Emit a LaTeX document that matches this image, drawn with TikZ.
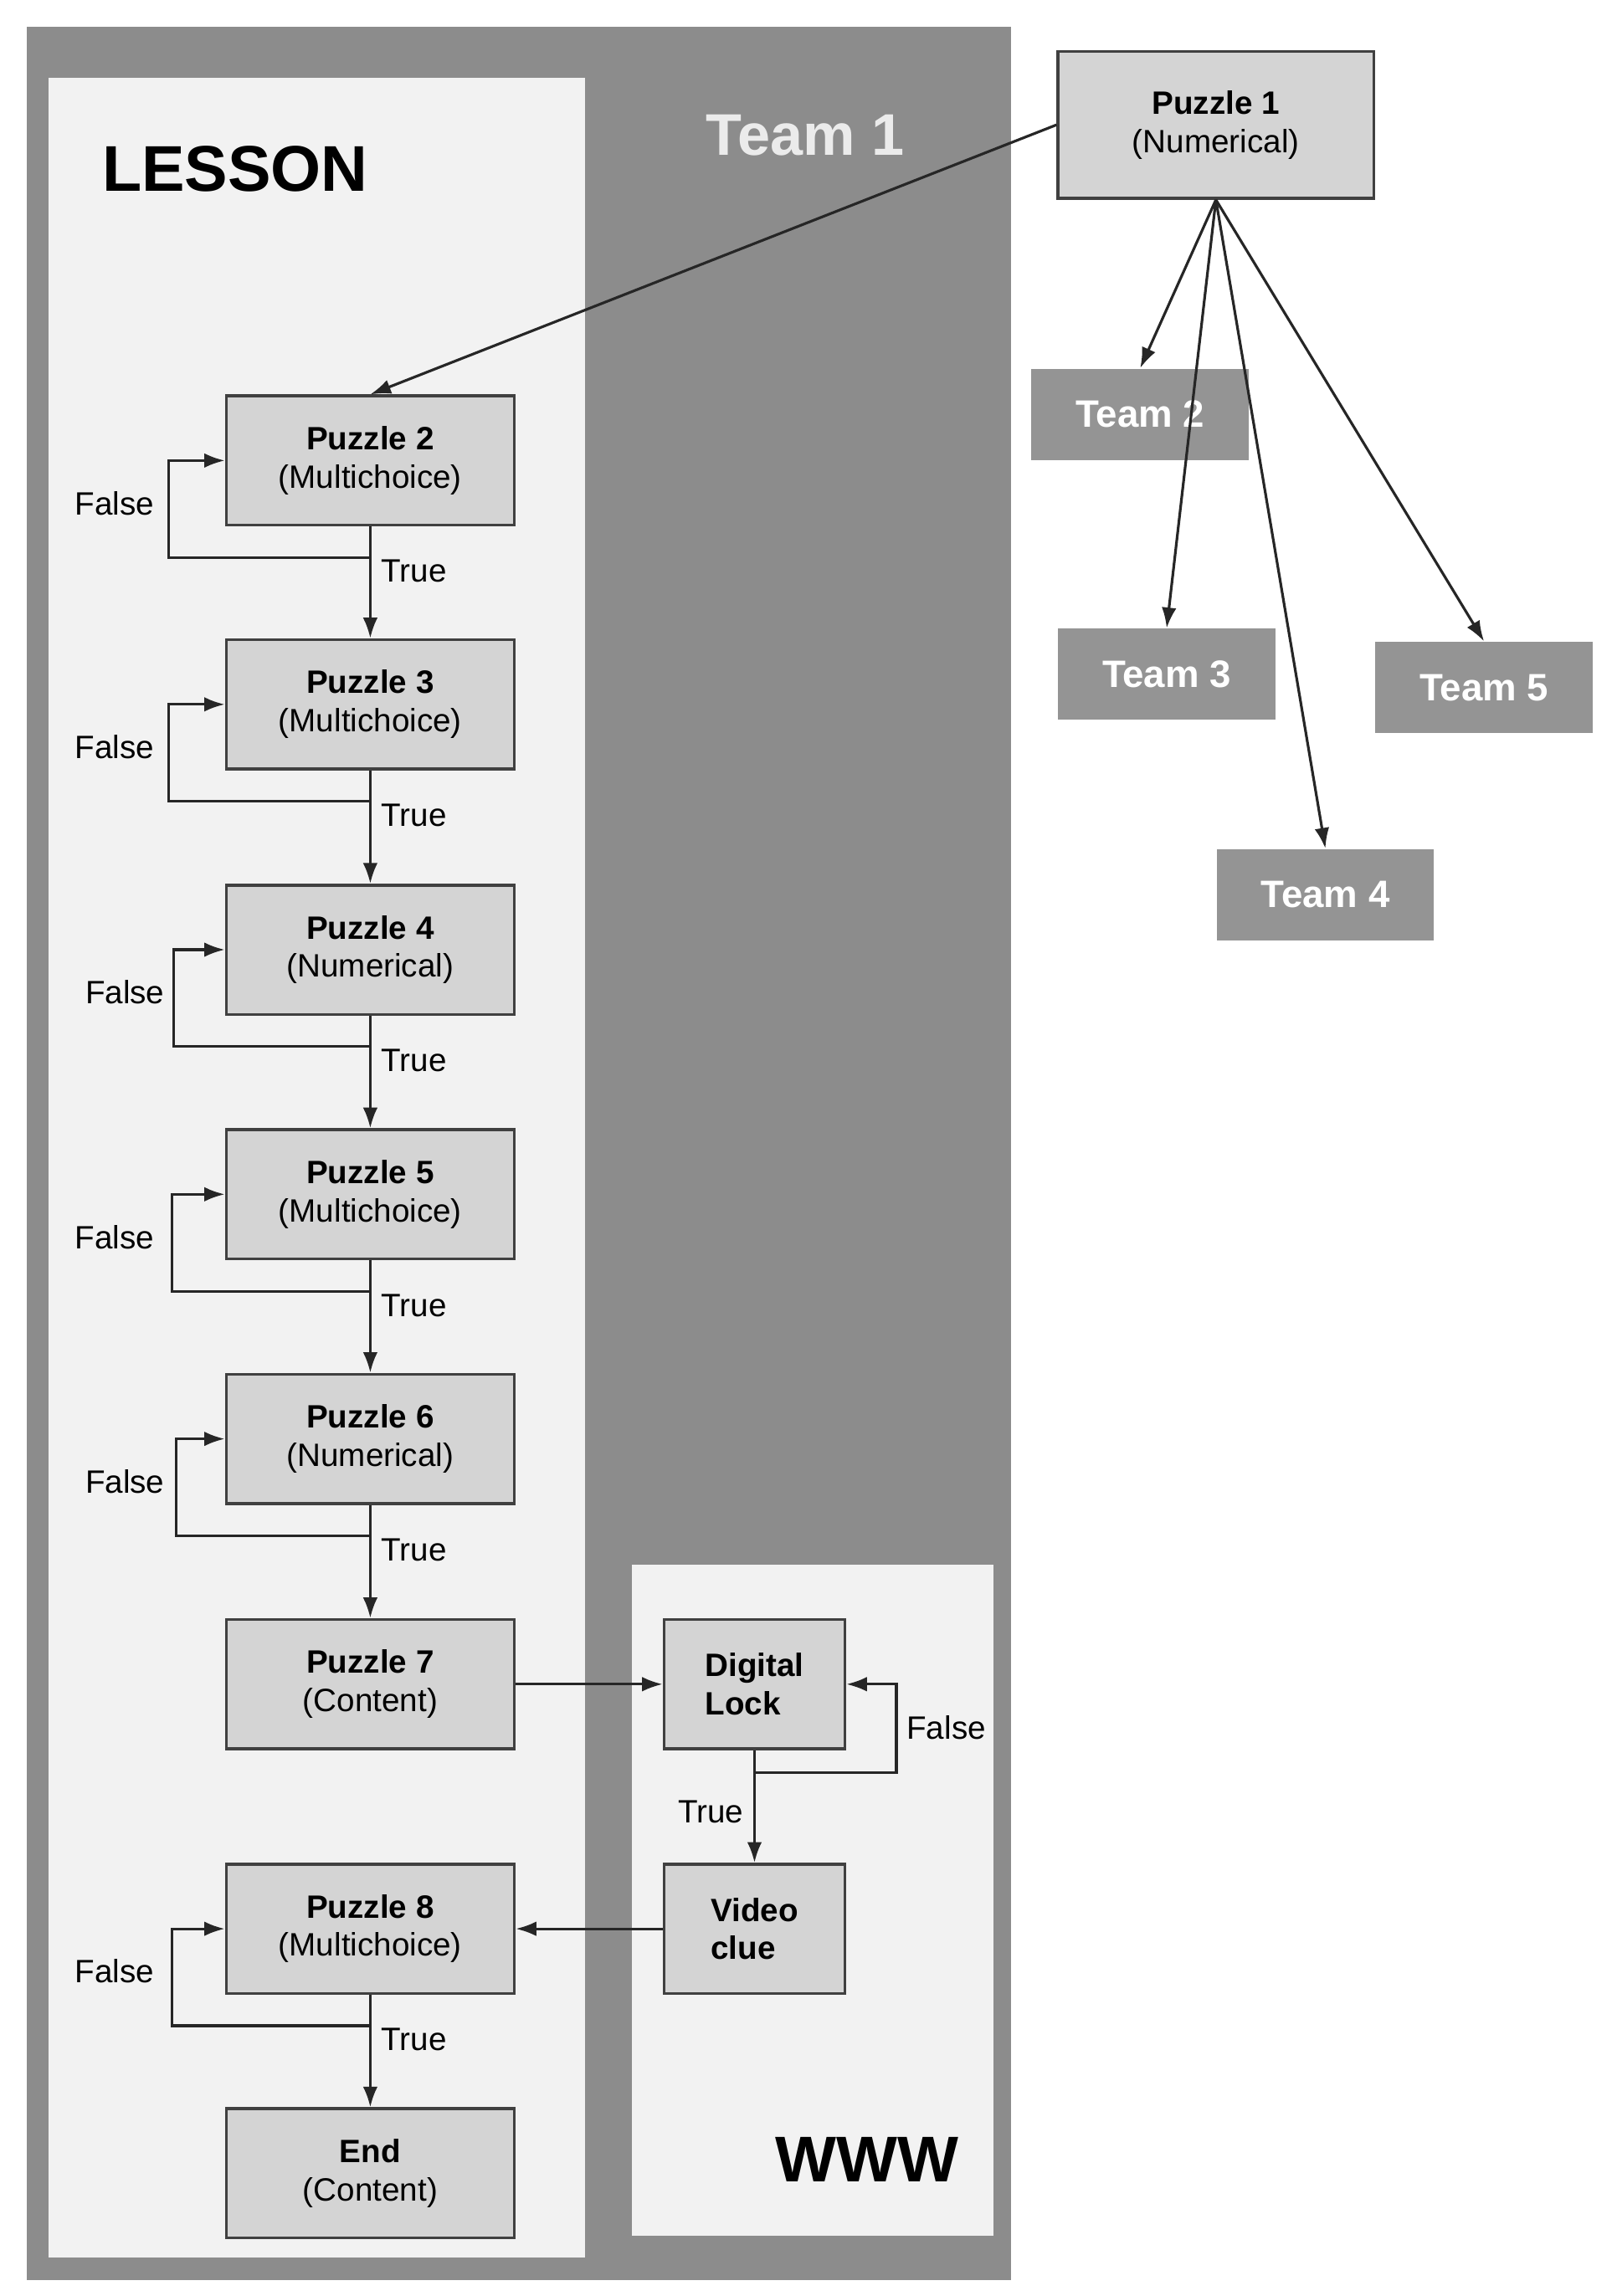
\documentclass[tikz,border=0pt]{standalone}
\usepackage{fontspec}
\setmainfont{Liberation Sans}
\usetikzlibrary{arrows.meta}
\begin{document}
\begin{tikzpicture}[x=0.5pt,y=-0.5pt,
  box/.style={draw=black!75,line width=1pt,fill=black!17,minimum width=98pt,minimum height=44pt,align=center,font=\fontsize{11}{13}\selectfont,inner sep=0pt},
  sbox/.style={box,minimum width=61.5pt,align=left},
  team/.style={fill=black!42,text=white,font=\bfseries\fontsize{13}{15}\selectfont,minimum width=74pt,minimum height=31pt,inner sep=0pt},
  arr/.style={-{Latex[length=7pt,width=5pt]},line width=0.9pt,draw=black!85},
  lab/.style={font=\fontsize{11}{13}\selectfont}]
\useasboundingbox (0,0) rectangle (1100,1563);
\fill[white] (0,0) rectangle (1100,1563);
\fill[black!45] (18,18) rectangle (688,1552);
\fill[black!5] (33,53) rectangle (398,1537);
\fill[black!5] (430,1065) rectangle (676,1522);
\node[font=\bfseries\fontsize{22}{24}\selectfont] (lesson) at (160,115) {LESSON};
\node[font=\bfseries\fontsize{20}{22}\selectfont,text=black!8] (t1) at (548,92) {Team 1};
\node[font=\bfseries\fontsize{22}{24}\selectfont] (www) at (590,1470) {WWW};
\node[box,minimum width=107.5pt,minimum height=50pt] (p1) at (827.5,85) {\textbf{Puzzle 1}\\(Numerical)};
\node[team] (t2) at (776,282) {Team 2};
\node[team] (t3) at (794,459) {Team 3};
\node[team] (t5) at (1010,468) {Team 5};
\node[team] (t4) at (902,609) {Team 4};
\node[box] (p2) at (252,313.5) {\textbf{Puzzle 2}\\(Multichoice)};
\node[box] (p3) at (252,479.5) {\textbf{Puzzle 3}\\(Multichoice)};
\node[box] (p4) at (252,646.5) {\textbf{Puzzle 4}\\(Numerical)};
\node[box] (p5) at (252,813) {\textbf{Puzzle 5}\\(Multichoice)};
\node[box] (p6) at (252,979.5) {\textbf{Puzzle 6}\\(Numerical)};
\node[box] (p7) at (252,1146.5) {\textbf{Puzzle 7}\\(Content)};
\node[box] (p8) at (252,1313) {\textbf{Puzzle 8}\\(Multichoice)};
\node[box] (end) at (252,1479.5) {\textbf{End}\\(Content)};
\node[sbox] (dl) at (513.5,1146.5) {\textbf{Digital}\\\textbf{Lock}};
\node[sbox] (vc) at (513.5,1313) {\textbf{Video}\\\textbf{clue}};
\draw[arr] (p1.west) -- (p2.north);
\foreach \t in {t2,t3,t4,t5}{\draw[arr] (p1.south) -- (\t.north);}
\foreach \a/\b in {p2/p3,p3/p4,p4/p5,p5/p6,p6/p7,p8/end}{
  \draw[arr] (\a.south) -- node[lab,right,pos=0.4] {True} (\b.north);
}
\foreach \a/\lx/\bx in {p2/78/115,p3/78/115,p4/85/118,p5/78/117,p6/85/120,p8/78/117}{
  \draw[arr] (\a.south) -- ++(0,21) -| (\bx,0 |- \a.west) -- (\a.west);
  \node[lab] (f\a) at (\lx,0 |- \a.south) [yshift=8pt] {False};
}
\draw[arr] (p7.east) -- (dl.west);
\draw[arr] (dl.south) -- ++(0,15) -| (610,1146.5) -- (dl.east);
\node[lab] (fdl) at (644,1176) {False};
\draw[arr] (dl.south) -- node[lab,left,pos=0.55] {True} (vc.north);
\draw[arr] (vc.west) -- (p8.east);
\end{tikzpicture}
\end{document}
